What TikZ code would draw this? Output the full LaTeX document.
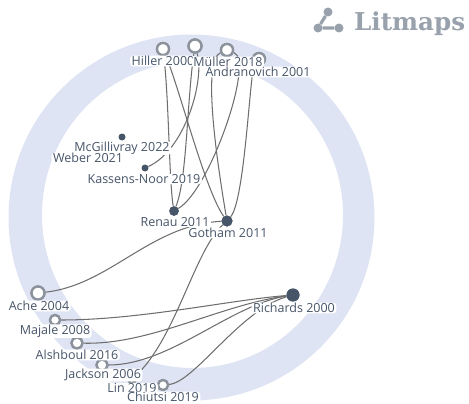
\documentclass[tikz,border=0pt]{standalone}
\usepackage{fontspec}
\setmainfont{Open Sans}
\newfontfamily\logofont{DejaVu Serif}
\definecolor{ringc}{HTML}{DFE4F4}
\definecolor{linkc}{HTML}{6E6E6E}
\definecolor{nodec}{HTML}{475569}
\definecolor{openc}{HTML}{8B929B}
\definecolor{textc}{HTML}{475569}
\definecolor{logoc}{HTML}{98A1AC}
\tikzset{
  x=1pt,y=-1pt,
  filledn/.style={circle,fill=nodec,draw=none,inner sep=0pt,minimum size=#1},
  openn/.style={circle,fill=white,draw=openc,line width=2.3pt,inner sep=0pt,minimum size=#1},
  lbl/.style={fill=white,rounded corners=3pt,inner xsep=1.5pt,inner ysep=0.5pt,text=textc,font=\fontsize{12.5}{14}\selectfont},
  link/.style={draw=linkc,line width=1.05pt},
  logoline/.style={draw=logoc,line width=3.2pt},
  logodot/.style={circle,fill=logoc,inner sep=0pt,minimum size=9pt}
}
\begin{document}
\begin{tikzpicture}
\useasboundingbox (0,0) rectangle (469,404);
\fill[ringc,even odd rule] (191.5,217.5) circle[radius=183] (192.5,215) ellipse[x radius=150.5,y radius=153];
% nodes
\node[openn=12pt] (hiller) at (163,49) {};
\node[openn=13pt] (muller) at (195,46) {};
\node[openn=12pt] (andra) at (227,50) {};
\node[openn=12pt] (fourth) at (259,59) {};
\node[filledn=7pt] (mcg) at (122,137) {};
\node[filledn=7pt] (kass) at (145,168) {};
\node[filledn=9.5pt] (renau) at (174,211) {};
\node[filledn=11pt] (gotham) at (227,221) {};
\node[filledn=13pt] (richards) at (293,295) {};
\node[openn=13pt] (ache) at (38,293) {};
\node[openn=10pt] (majale) at (55,320) {};
\node[openn=11pt] (alsh) at (77,343) {};
\node[openn=11pt] (jack) at (102,365) {};
\node[openn=8pt] (lin) at (132,379) {};
\node[openn=10pt] (chiutsi) at (163,385) {};
% connectors
\draw[link] (hiller) .. controls (169,100) and (169,180) .. (renau);
\draw[link] (hiller) .. controls (180,90) and (205,190) .. (gotham);
\draw[link] (muller) .. controls (187,100) and (187,180) .. (renau);
\draw[link] (muller) .. controls (205,80) and (185,150) .. (kass);
\draw[link] (andra) .. controls (203,60) and (215,150) .. (gotham);
\draw[link] (andra) .. controls (255,60) and (210,190) .. (renau);
\draw[link] (fourth) .. controls (250,70) and (245,200) .. (gotham);
\draw[link] (ache) .. controls (110,285) and (150,225) .. (gotham);
\draw[link] (gotham) .. controls (195,250) and (175,340) .. (lin);
\draw[link] (majale) .. controls (140,320) and (230,300) .. (richards);
\draw[link] (alsh) .. controls (150,345) and (220,305) .. (richards);
\draw[link] (jack) .. controls (170,365) and (230,305) .. (richards);
\draw[link] (chiutsi) .. controls (195,382) and (240,310) .. (richards);
% redraw nodes above links
\node[openn=12pt] at (hiller) {};
\node[openn=13pt] at (muller) {};
\node[openn=12pt] at (andra) {};
\node[openn=12pt] at (fourth) {};
\node[filledn=9.5pt] at (renau) {};
\node[filledn=11pt] at (gotham) {};
\node[filledn=13pt] at (richards) {};
\node[openn=13pt] at (ache) {};
\node[openn=10pt] at (majale) {};
\node[openn=11pt] at (alsh) {};
\node[openn=11pt] at (jack) {};
\node[openn=10pt] at (chiutsi) {};
% labels
\node[lbl] (lhiller) at (163,61) {Hiller 2000};
\node[lbl] (lmuller) at (228,62) {Müller 2018};
\node[lbl] (landra) at (258,72) {Andranovich 2001};
\node[lbl] (lmcg) at (122,148) {McGillivray 2022};
\node[lbl] (lweber) at (88,158) {Weber 2021};
\node[lbl] (lkass) at (144,179) {Kassens-Noor 2019};
\node[lbl] (lrenau) at (175,222) {Renau 2011};
\node[lbl] (lgotham) at (228,233) {Gotham 2011};
\node[lbl] (lrich) at (294,308) {Richards 2000};
\node[lbl] (lache) at (39,306) {Ache 2004};
\node[lbl] (lmaj) at (55,331) {Majale 2008};
\node[lbl] (lalsh) at (77,355) {Alshboul 2016};
\node[lbl] (ljack) at (103,375) {Jackson 2006};
\node[lbl] (llin) at (132,388) {Lin 2019};
\node[lbl] (lchi) at (163,397) {Chiutsi 2019};
% logo
\node[logodot] (la) at (328,12) {};
\node[logodot] (lb) at (318,28) {};
\node[logodot] (lc) at (339,28) {};
\draw[logoline] (la) -- (lb) -- (lc);
\node[anchor=base west,inner sep=0pt,text=logoc,font=\logofont\bfseries\fontsize{24.6}{26}\selectfont] (logo) at (354,31) {Litmaps};
\end{tikzpicture}
\end{document}
